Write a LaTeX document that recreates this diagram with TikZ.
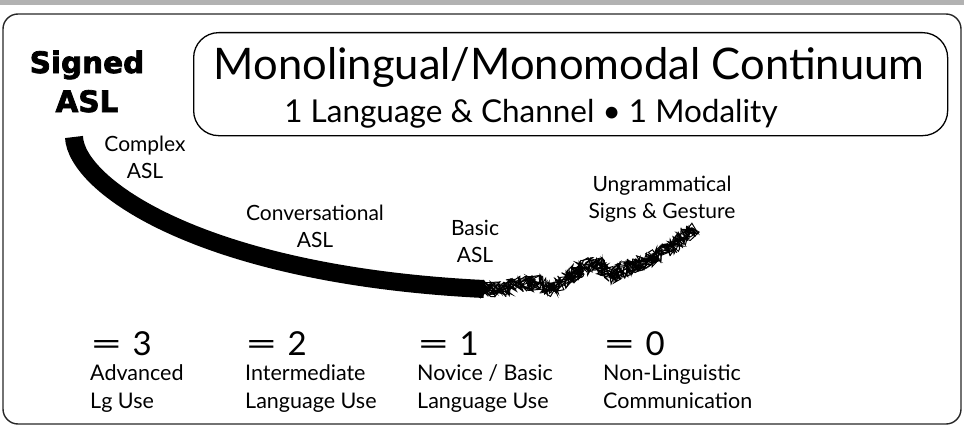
\documentclass[tikz,border=0pt]{standalone}
\usepackage{fontspec}
\setmainfont{Lato}
\newfontfamily\heavyfont{DejaVu Sans}[BoldFeatures={FakeBold=2.5}]
\usetikzlibrary{positioning,decorations.pathmorphing}
\newcommand{\eqsign}{\scalebox{1.7}[1]{=}\hspace{0.3em}}

\begin{document}
\begin{tikzpicture}[x=1pt,y=-1pt,
	lbl/.style={inner sep=0pt, align=center, anchor=base,
		font=\fontsize{21}{26.5}\selectfont},
	score/.style={inner sep=0pt, anchor=base west,
		font=\fontsize{33}{33}\selectfont},
	level/.style={inner sep=0pt, align=left,
		font=\fontsize{21.5}{28}\selectfont},
	scribble/.style={line width=1pt, decorate,
		decoration={random steps, segment length=2.4pt, amplitude=8pt}}]
	\useasboundingbox (0,0) rectangle (964,428);
	% frame
	\fill[black!30] (0,0) rectangle (964,5);
	\draw[line width=1.4pt, black!85, rounded corners=15pt] (3,14) rectangle (961,424);
	% title box
	\node[draw,
	line width=1.3pt,
	rounded corners=25pt,
	minimum width=754pt,
	minimum height=103pt,
	anchor=north west] (titlebox) at (193,32) {};
	\node[inner sep=0pt, anchor=base, font=\fontsize{43.5}{43.5}\selectfont]
	(title) at (569,80) {Monolingual/Monomodal Continuum};
	\node[inner sep=0pt, anchor=base, font=\fontsize{31.5}{31.5}\selectfont]
	(subtitle) at (531,122) {1 Language \& Channel \textbullet\ 1 Modality};
	\node[inner sep=0pt, align=center, anchor=base,
	font=\heavyfont\bfseries\fontsize{29.5}{39}\selectfont]
	(signed) at (87,112) {Signed\\ASL};
	% the continuum
	\coordinate (top) at (74,137);
	\coordinate (basicend) at (484,289);
	\coordinate (gesture) at (692,228);
	\draw[line width=18pt] (top) .. controls (76,185) and (200,275) .. (basicend);
	\pgfmathsetseed{7}
	\foreach \k in {1,...,8}
	\draw[scribble] (basicend) -- (500,290) -- (520,284) -- (540,283)
	-- (553,290) -- (570,276) -- (583,268) -- (597,263) -- (610,276)
	-- (627,268) -- (653,258) -- (673,246) -- (gesture);
	% stage labels
	\node[lbl] (complex) at (145,178) {Complex\\ASL};
	\node[lbl] (conv) at (315,247) {Conversational\\ASL};
	\node[lbl] (basic) at (475,262) {Basic\\ASL};
	\node[lbl] (ungram) at (662,218) {Ungrammatical\\Signs \& Gesture};
	% scores
	\node[score] (s3) at (90,355) {\eqsign 3};
	\node[score] (s2) at (245,355) {\eqsign 2};
	\node[score] (s1) at (417,355) {\eqsign 1};
	\node[score] (s0) at (603,355) {\eqsign 0};
	\node[level, below=9pt of s3.south west, anchor=north west] (l3) {Advanced\\Lg Use};
	\node[level, below=9pt of s2.south west, anchor=north west] (l2) {Intermediate\\Language Use};
	\node[level, below=9pt of s1.south west, anchor=north west] (l1) {Novice / Basic\\Language Use};
	\node[level, below=9pt of s0.south west, anchor=north west] (l0) {Non-Linguistic\\Communication};
\end{tikzpicture}
\end{document}
